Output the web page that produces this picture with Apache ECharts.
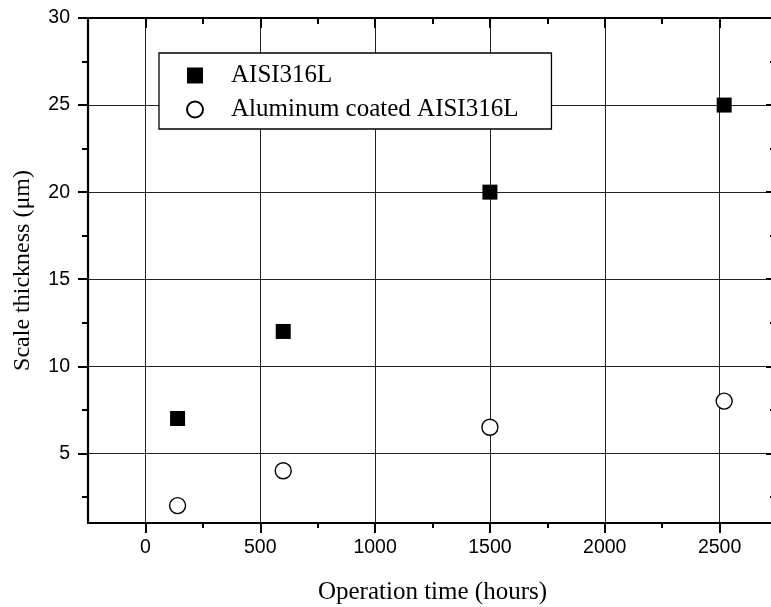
<!DOCTYPE html>
<html>
<head>
<meta charset="utf-8">
<script src="https://cdn.jsdelivr.net/npm/echarts@6/dist/echarts.min.js"></script>
<style>html,body{margin:0;padding:0;background:#fff}#c{width:771px;height:607px}</style>
</head>
<body>
<div id="c"></div>
<script>
// Data
const seriesNames = ['AISI316L', 'Aluminum coated AISI316L'];
const timeHours = [140, 600, 1500, 2520];
const bareThickness = [7, 12, 20, 25];
const coatedThickness = [2, 4, 6.5, 8];
const xMajorTicks = [0, 500, 1000, 1500, 2000, 2500];
const xMinorTicks = [250, 750, 1250, 1750, 2250, 2750];
const yMajorTicks = [5, 10, 15, 20, 25, 30];
const yMinorTicks = [2.5, 7.5, 12.5, 17.5, 22.5, 27.5];

const X_MIN = -250, X_MAX = 2750, Y_MIN = 1, Y_MAX = 30;
const serif = '"Liberation Serif", "Times New Roman", serif';
const sans = '"Liberation Sans", Arial, sans-serif';

function xAx(opts) {
  return Object.assign({
    type: 'value', min: X_MIN, max: X_MAX,
    axisLine: { show: false, onZero: false },
    axisTick: { show: false }, axisLabel: { show: false },
    splitLine: { show: false }
  }, opts);
}
function yAx(opts) {
  return Object.assign({
    type: 'value', min: Y_MIN, max: Y_MAX,
    axisLine: { show: false, onZero: false },
    axisTick: { show: false }, axisLabel: { show: false },
    splitLine: { show: false }
  }, opts);
}

const chart = echarts.init(document.getElementById('c'), null, { renderer: 'canvas' });
chart.setOption({
  animation: false,
  backgroundColor: '#fff',
  grid: { left: 88, right: -6, top: 18, bottom: 84, containLabel: false, outerBoundsMode: 'none' },
  legend: {
    orient: 'vertical',
    left: 159, top: 53,
    data: seriesNames,
    itemWidth: 16, itemHeight: 16, itemGap: 9,
    padding: [10, 33, 7, 27],
    borderColor: '#000', borderWidth: 1.3,
    backgroundColor: '#fff',
    textStyle: { fontFamily: serif, fontSize: 25, color: '#000', padding: [0, 0, 0, 23] }
  },
  xAxis: [
    xAx({
      position: 'bottom',
      name: 'Operation time (hours)', nameLocation: 'middle', nameGap: 57,
      nameTextStyle: { fontFamily: serif, fontSize: 25, color: '#000' },
      axisLine: { show: true, onZero: false, lineStyle: { color: '#000', width: 2.2 } },
      axisTick: { show: true, inside: false, length: 10, customValues: xMajorTicks, lineStyle: { color: '#000', width: 2 } },
      axisLabel: { show: true, customValues: xMajorTicks, margin: 15, fontFamily: sans, fontSize: 19.5, color: '#000', formatter: v => String(v) },
      splitLine: { show: true, lineStyle: { color: '#222', width: 1 } }
    }),
    xAx({
      position: 'bottom',
      axisTick: { show: true, inside: false, length: 5, customValues: xMinorTicks, lineStyle: { color: '#000', width: 2 } }
    }),
    xAx({
      position: 'top',
      axisLine: { show: true, onZero: false, lineStyle: { color: '#000', width: 2.2 } },
      axisTick: { show: true, inside: true, length: 10, customValues: xMajorTicks, lineStyle: { color: '#000', width: 2 } }
    }),
    xAx({
      position: 'top',
      axisTick: { show: true, inside: true, length: 6, customValues: xMinorTicks, lineStyle: { color: '#000', width: 2 } }
    })
  ],
  yAxis: [
    yAx({
      position: 'left',
      name: 'Scale thickness (\u03bcm)', nameLocation: 'middle', nameGap: 53, nameRotate: 90,
      nameTextStyle: { fontFamily: serif, fontSize: 24, color: '#000' },
      axisLine: { show: true, onZero: false, lineStyle: { color: '#000', width: 2.2 } },
      axisTick: { show: true, inside: false, length: 10, customValues: yMajorTicks, lineStyle: { color: '#000', width: 2 } },
      axisLabel: { show: true, customValues: yMajorTicks, margin: 18, fontFamily: sans, fontSize: 19.5, color: '#000', formatter: v => String(v) },
      splitLine: { show: true, lineStyle: { color: '#222', width: 1 } }
    }),
    yAx({
      position: 'left',
      axisTick: { show: true, inside: false, length: 6, customValues: yMinorTicks, lineStyle: { color: '#000', width: 2 } }
    }),
    yAx({
      position: 'right',
      axisLine: { show: true, onZero: false, lineStyle: { color: '#000', width: 2.2 } },
      axisTick: { show: true, inside: true, length: 11, customValues: yMajorTicks, lineStyle: { color: '#000', width: 2 } }
    }),
    yAx({
      position: 'right',
      axisTick: { show: true, inside: true, length: 7, customValues: yMinorTicks, lineStyle: { color: '#000', width: 2 } }
    })
  ],
  series: [
    {
      name: seriesNames[0], type: 'scatter', xAxisIndex: 0, yAxisIndex: 0,
      symbol: 'rect', symbolSize: 15,
      itemStyle: { color: '#000', opacity: 1 },
      data: timeHours.map((t, i) => [t, bareThickness[i]])
    },
    {
      name: seriesNames[1], type: 'scatter', xAxisIndex: 0, yAxisIndex: 0,
      symbol: 'circle', symbolSize: 16,
      itemStyle: { color: '#fff', borderColor: '#000', borderWidth: 1.4, opacity: 1 },
      data: timeHours.map((t, i) => [t, coatedThickness[i]])
    }
  ]
});
</script>
</body>
</html>
